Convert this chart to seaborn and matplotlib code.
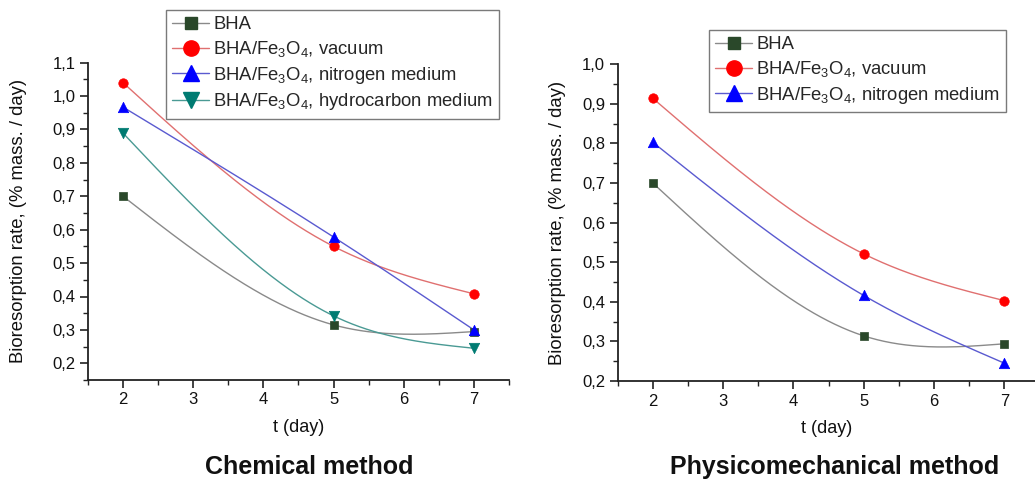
import numpy as np
import pandas as pd
import seaborn as sns
import matplotlib
matplotlib.use("Agg")
import matplotlib.pyplot as plt
from matplotlib.lines import Line2D
from matplotlib.ticker import MultipleLocator, FuncFormatter

# ---------------- data ----------------
days = [2, 5, 7]
series_labels = ["BHA",
                 r"BHA/Fe$_3$O$_4$, vacuum",
                 r"BHA/Fe$_3$O$_4$, nitrogen medium",
                 r"BHA/Fe$_3$O$_4$, hydrocarbon medium"]

chem_bha = [0.700, 0.315, 0.295]
chem_vacuum = [1.040, 0.550, 0.408]
chem_nitrogen = [0.967, 0.578, 0.300]
chem_hydrocarbon = [0.889, 0.342, 0.245]

phys_bha = [0.700, 0.314, 0.294]
phys_vacuum = [0.914, 0.521, 0.403]
phys_nitrogen = [0.803, 0.416, 0.245]

panel_titles = ["Chemical method", "Physicomechanical method"]
x_label = "t (day)"
y_label = "Bioresorption rate, (% mass. / day)"

# ---------------- style ----------------
sns.set_theme(style="ticks")
plt.rcParams["font.family"] = ["Liberation Sans", "DejaVu Sans"]
plt.rcParams["mathtext.fontset"] = "custom"
plt.rcParams["mathtext.rm"] = "Liberation Sans"
plt.rcParams["mathtext.default"] = "regular"

marker_colors = ["#2a482a", "#ff0000", "#0000ff", "#007b72"]
line_colors = ["#8a8a8a", "#e07070", "#5a5ad0", "#4a9a94"]
markers = ["s", "o", "^", "v"]
msizes = [5.2, 6.8, 7.5, 7.5]        # markers in the plots
leg_msizes = [8, 11, 12, 12]         # markers in the legends


def natural_spline(xk, yk, n=200):
    xk = np.asarray(xk, float)
    yk = np.asarray(yk, float)
    h = np.diff(xk)
    m = len(xk)
    A = np.zeros((m, m))
    r = np.zeros(m)
    A[0, 0] = A[-1, -1] = 1
    for i in range(1, m - 1):
        A[i, i - 1] = h[i - 1]
        A[i, i] = 2 * (h[i - 1] + h[i])
        A[i, i + 1] = h[i]
        r[i] = 6 * ((yk[i + 1] - yk[i]) / h[i] - (yk[i] - yk[i - 1]) / h[i - 1])
    M = np.linalg.solve(A, r)
    xs = np.linspace(xk[0], xk[-1], n)
    ys = np.empty_like(xs)
    for j, x in enumerate(xs):
        i = min(np.searchsorted(xk, x, side="right") - 1, m - 2)
        hi = h[i]
        a = xk[i + 1] - x
        b = x - xk[i]
        ys[j] = (M[i] * a ** 3 / (6 * hi) + M[i + 1] * b ** 3 / (6 * hi)
                 + (yk[i] / hi - M[i] * hi / 6) * a
                 + (yk[i + 1] / hi - M[i + 1] * hi / 6) * b)
    return xs, ys


W, H = 1035, 482
fig = plt.figure(figsize=(W / 100, H / 100), dpi=100)

def px_axes(x0, y0, x1, y1):
    return fig.add_axes([x0 / W, 1 - y1 / H, (x1 - x0) / W, (y1 - y0) / H])

ax1 = px_axes(88, 62.7, 509, 380)
ax2 = px_axes(617.7, 64.3, 1035, 381)

panels = [
    (ax1, [chem_bha, chem_vacuum, chem_nitrogen, chem_hydrocarbon], (0.15, 1.1), 19),
    (ax2, [phys_bha, phys_vacuum, phys_nitrogen], (0.2, 1.0), 557),
]

comma = FuncFormatter(lambda v, p: (f"{v:.1f}".replace(".", ",")))

for ax, series, ylim, ylab_x in panels:
    for k, vals in enumerate(series):
        xs, ys = natural_spline(days, vals)
        ax.plot(xs, ys, color=line_colors[k], lw=1.0, zorder=2)
        df = pd.DataFrame({"t": days, "v": vals})
        sns.scatterplot(data=df, x="t", y="v", ax=ax, marker=markers[k],
                        s=msizes[k] ** 2, color=marker_colors[k],
                        edgecolor=marker_colors[k], linewidth=0.5, zorder=3)
    ax.set_xlim(1.5, 7.5 if ax is ax1 else 7.436)
    ax.set_ylim(*ylim)
    ax.xaxis.set_major_locator(MultipleLocator(1))
    ax.xaxis.set_minor_locator(MultipleLocator(0.5))
    ax.yaxis.set_major_locator(MultipleLocator(0.1))
    ax.yaxis.set_minor_locator(MultipleLocator(0.05))
    ax.yaxis.set_major_formatter(comma)
    for s in ["top", "right"]:
        ax.spines[s].set_visible(False)
    for s in ["left", "bottom"]:
        ax.spines[s].set_linewidth(1.3)
        ax.spines[s].set_color("#222222")
    ax.tick_params(which="major", direction="out", length=6, width=1.2,
                   color="#222222", labelsize=12, labelcolor="#111111", pad=3)
    ax.tick_params(which="minor", direction="out", length=3.5, width=1.0,
                   color="#222222")
    ax.set_xlabel(x_label, fontsize=13, labelpad=8, color="#111111")
    ax.set_ylabel(y_label, fontsize=13.3, color="#111111")
    # place the y label centre at a given figure pixel column
    pos = ax.get_position()
    ax.yaxis.set_label_coords((ylab_x / W - pos.x0) / pos.width, 0.5)
    ax.yaxis.label.set_va("center")
    ax.grid(False)

def make_handles(n):
    return [Line2D([0], [0], color=line_colors[k], lw=1.0, marker=markers[k],
                   markersize=leg_msizes[k], markerfacecolor=marker_colors[k],
                   markeredgecolor=marker_colors[k]) for k in range(n)]

leg_kw = dict(loc="upper left", frameon=True, fancybox=False, fontsize=13.3,
              handlelength=2.0, handletextpad=0.2, labelspacing=0.3,
              borderpad=0.35, borderaxespad=0, edgecolor="#7a7a7a",
              framealpha=1)
l1 = fig.legend(make_handles(4), series_labels, bbox_to_anchor=(166 / W, 1 - 10 / H),
                **leg_kw)
l1.get_frame().set_linewidth(1.0)
l2 = fig.legend(make_handles(3), series_labels[:3], bbox_to_anchor=(709 / W, 1 - 30 / H),
                **leg_kw)
l2.get_frame().set_linewidth(1.0)

fig.text(309 / W, 1 - 467 / H, panel_titles[0], ha="center", va="center",
         fontsize=18, fontweight="bold", color="#111111")
fig.text(835 / W, 1 - 467 / H, panel_titles[1], ha="center", va="center",
         fontsize=18, fontweight="bold", color="#111111")

fig.savefig("out.png", dpi=100)
